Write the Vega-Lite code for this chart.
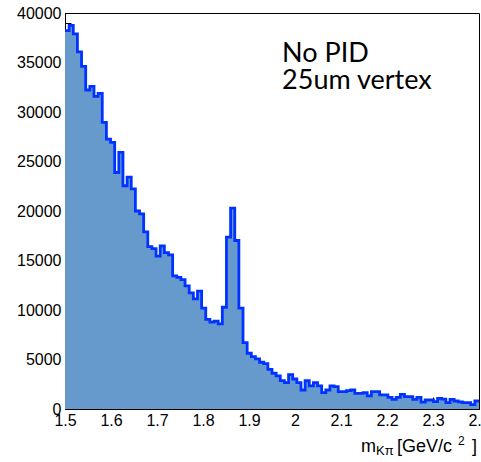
{
  "$schema": "https://vega.github.io/schema/vega-lite/v6.json",
  "width": 414,
  "height": 396,
  "autosize": {"type": "none"},
  "padding": {"left": 65, "top": 13, "right": 2, "bottom": 53},
  "background": "white",
  "config": {
    "view": {"stroke": "black", "strokeWidth": 1},
    "axis": {"domain": false, "grid": false, "tickColor": "black", "tickWidth": 1, "labelColor": "black", "labelFont": "Liberation Sans", "labelFontSize": 16, "titleFont": "Liberation Sans", "zindex": 1}
  },
  "datasets": {
    "hist": [
      {"lo": 1.500, "hi": 1.509, "n": 38220},
      {"lo": 1.509, "hi": 1.518, "n": 38760},
      {"lo": 1.518, "hi": 1.527, "n": 37900},
      {"lo": 1.527, "hi": 1.536, "n": 36070},
      {"lo": 1.536, "hi": 1.545, "n": 34610},
      {"lo": 1.545, "hi": 1.554, "n": 32220},
      {"lo": 1.554, "hi": 1.563, "n": 32590},
      {"lo": 1.563, "hi": 1.572, "n": 31580},
      {"lo": 1.572, "hi": 1.581, "n": 31880},
      {"lo": 1.581, "hi": 1.590, "n": 28950},
      {"lo": 1.590, "hi": 1.599, "n": 27270},
      {"lo": 1.599, "hi": 1.608, "n": 26930},
      {"lo": 1.608, "hi": 1.617, "n": 23890},
      {"lo": 1.617, "hi": 1.626, "n": 25920},
      {"lo": 1.626, "hi": 1.635, "n": 22550},
      {"lo": 1.635, "hi": 1.644, "n": 23430},
      {"lo": 1.644, "hi": 1.653, "n": 22240},
      {"lo": 1.653, "hi": 1.662, "n": 20000},
      {"lo": 1.662, "hi": 1.671, "n": 19700},
      {"lo": 1.671, "hi": 1.680, "n": 17900},
      {"lo": 1.680, "hi": 1.689, "n": 16410},
      {"lo": 1.689, "hi": 1.698, "n": 16200},
      {"lo": 1.698, "hi": 1.707, "n": 15450},
      {"lo": 1.707, "hi": 1.716, "n": 16480},
      {"lo": 1.716, "hi": 1.725, "n": 15800},
      {"lo": 1.725, "hi": 1.734, "n": 15570},
      {"lo": 1.734, "hi": 1.743, "n": 13450},
      {"lo": 1.743, "hi": 1.752, "n": 13300},
      {"lo": 1.752, "hi": 1.761, "n": 13060},
      {"lo": 1.761, "hi": 1.770, "n": 12440},
      {"lo": 1.770, "hi": 1.779, "n": 11730},
      {"lo": 1.779, "hi": 1.788, "n": 11120},
      {"lo": 1.788, "hi": 1.797, "n": 11900},
      {"lo": 1.797, "hi": 1.806, "n": 10180},
      {"lo": 1.806, "hi": 1.815, "n": 9050},
      {"lo": 1.815, "hi": 1.824, "n": 8770},
      {"lo": 1.824, "hi": 1.833, "n": 8870},
      {"lo": 1.833, "hi": 1.842, "n": 8590},
      {"lo": 1.842, "hi": 1.851, "n": 10280},
      {"lo": 1.851, "hi": 1.860, "n": 17360},
      {"lo": 1.860, "hi": 1.869, "n": 20290},
      {"lo": 1.869, "hi": 1.878, "n": 17020},
      {"lo": 1.878, "hi": 1.887, "n": 10180},
      {"lo": 1.887, "hi": 1.896, "n": 6700},
      {"lo": 1.896, "hi": 1.905, "n": 5630},
      {"lo": 1.905, "hi": 1.914, "n": 5290},
      {"lo": 1.914, "hi": 1.923, "n": 5060},
      {"lo": 1.923, "hi": 1.932, "n": 4720},
      {"lo": 1.932, "hi": 1.941, "n": 4580},
      {"lo": 1.941, "hi": 1.950, "n": 4010},
      {"lo": 1.950, "hi": 1.959, "n": 3610},
      {"lo": 1.959, "hi": 1.968, "n": 3340},
      {"lo": 1.968, "hi": 1.977, "n": 2870},
      {"lo": 1.977, "hi": 1.986, "n": 2660},
      {"lo": 1.986, "hi": 1.995, "n": 3470},
      {"lo": 1.995, "hi": 2.004, "n": 3030},
      {"lo": 2.004, "hi": 2.013, "n": 2660},
      {"lo": 2.013, "hi": 2.022, "n": 1920},
      {"lo": 2.022, "hi": 2.031, "n": 2870},
      {"lo": 2.031, "hi": 2.040, "n": 2330},
      {"lo": 2.040, "hi": 2.049, "n": 2660},
      {"lo": 2.049, "hi": 2.058, "n": 2330},
      {"lo": 2.058, "hi": 2.067, "n": 1650},
      {"lo": 2.067, "hi": 2.076, "n": 1920},
      {"lo": 2.076, "hi": 2.085, "n": 2330},
      {"lo": 2.085, "hi": 2.094, "n": 2260},
      {"lo": 2.094, "hi": 2.103, "n": 1750},
      {"lo": 2.103, "hi": 2.112, "n": 1750},
      {"lo": 2.112, "hi": 2.121, "n": 1850},
      {"lo": 2.121, "hi": 2.130, "n": 1920},
      {"lo": 2.130, "hi": 2.139, "n": 1580},
      {"lo": 2.139, "hi": 2.148, "n": 1580},
      {"lo": 2.148, "hi": 2.157, "n": 1650},
      {"lo": 2.157, "hi": 2.166, "n": 1320},
      {"lo": 2.166, "hi": 2.175, "n": 1750},
      {"lo": 2.175, "hi": 2.184, "n": 1750},
      {"lo": 2.184, "hi": 2.193, "n": 1420},
      {"lo": 2.193, "hi": 2.202, "n": 1420},
      {"lo": 2.202, "hi": 2.211, "n": 1180},
      {"lo": 2.211, "hi": 2.220, "n": 980},
      {"lo": 2.220, "hi": 2.229, "n": 1180},
      {"lo": 2.229, "hi": 2.238, "n": 1480},
      {"lo": 2.238, "hi": 2.247, "n": 1250},
      {"lo": 2.247, "hi": 2.256, "n": 1250},
      {"lo": 2.256, "hi": 2.265, "n": 980},
      {"lo": 2.265, "hi": 2.274, "n": 1180},
      {"lo": 2.274, "hi": 2.283, "n": 700},
      {"lo": 2.283, "hi": 2.292, "n": 910},
      {"lo": 2.292, "hi": 2.301, "n": 910},
      {"lo": 2.301, "hi": 2.310, "n": 740},
      {"lo": 2.310, "hi": 2.319, "n": 1080},
      {"lo": 2.319, "hi": 2.328, "n": 1000},
      {"lo": 2.328, "hi": 2.337, "n": 650},
      {"lo": 2.337, "hi": 2.346, "n": 980},
      {"lo": 2.346, "hi": 2.355, "n": 810},
      {"lo": 2.355, "hi": 2.364, "n": 710},
      {"lo": 2.364, "hi": 2.373, "n": 640},
      {"lo": 2.373, "hi": 2.382, "n": 640},
      {"lo": 2.382, "hi": 2.391, "n": 450},
      {"lo": 2.391, "hi": 2.400, "n": 810}
    ],
    "note": [{"label": "No PID\n25um vertex"}],
    "xt1": [{"label": "m"}],
    "xt2": [{"label": "Kπ"}],
    "xt3": [{"label": "[GeV/c"}],
    "xt4": [{"label": "2"}],
    "xt5": [{"label": "]"}]
  },
  "layer": [
    {
      "data": {"name": "hist"},
      "transform": [{"fold": ["lo", "hi"], "as": ["edge", "xv"]}],
      "mark": {"type": "area", "color": "#6699cc", "opacity": 1},
      "encoding": {
        "x": {"field": "xv", "type": "quantitative", "scale": {"domain": [1.5, 2.4], "nice": false, "zero": false},
              "axis": {"orient": "bottom", "title": null, "values": [1.5, 1.6, 1.7, 1.8, 1.9, 2.0, 2.1, 2.2, 2.3, 2.4], "format": ".2~f", "tickSize": -12, "labelPadding": 15, "labelFlush": false}},
        "y": {"field": "n", "type": "quantitative", "stack": null, "scale": {"domain": [0, 40000], "nice": false},
              "axis": {"orient": "left", "title": null, "values": [0, 5000, 10000, 15000, 20000, 25000, 30000, 35000, 40000], "format": "d", "tickSize": -12, "labelPadding": 16, "labelFlush": false}}
      }
    },
    {
      "data": {"name": "hist"},
      "transform": [{"fold": ["lo", "hi"], "as": ["edge", "xv"]}],
      "mark": {"type": "line", "color": "#0033ff", "strokeWidth": 2.8, "strokeJoin": "miter"},
      "encoding": {
        "x": {"field": "xv", "type": "quantitative", "scale": {"domain": [1.5, 2.4], "nice": false, "zero": false},
              "axis": {"orient": "bottom", "title": null, "labels": false, "tickCount": 45, "tickSize": -6}},
        "y": {"field": "n", "type": "quantitative", "scale": {"domain": [0, 40000], "nice": false},
              "axis": {"orient": "left", "title": null, "labels": false, "tickCount": 40, "tickSize": -6}},
        "order": [{"field": "xv", "type": "quantitative"}, {"field": "edge", "type": "nominal"}]
      }
    },
    {
      "data": {"name": "note"},
      "mark": {"type": "text", "align": "left", "baseline": "alphabetic", "font": "Lato", "fontSize": 27, "lineBreak": "\n", "lineHeight": 27, "color": "black"},
      "encoding": {
        "x": {"datum": 1.972, "type": "quantitative", "scale": {"domain": [1.5, 2.4], "nice": false, "zero": false}, "axis": null},
        "y": {"datum": 35100, "type": "quantitative", "scale": {"domain": [0, 40000], "nice": false}, "axis": null},
        "text": {"field": "label"}
      }
    },
    {
      "data": {"name": "xt1"},
      "mark": {"type": "text", "align": "left", "baseline": "alphabetic", "font": "Liberation Sans", "fontSize": 18, "color": "black"},
      "encoding": {
        "x": {"datum": 2.1435, "type": "quantitative", "scale": {"domain": [1.5, 2.4], "nice": false, "zero": false}, "axis": null},
        "y": {"datum": -4300, "type": "quantitative", "scale": {"domain": [0, 40000], "nice": false}, "axis": null},
        "text": {"field": "label"}
      }
    },
    {
      "data": {"name": "xt2"},
      "mark": {"type": "text", "align": "left", "baseline": "alphabetic", "font": "Liberation Sans", "fontSize": 13, "color": "black"},
      "encoding": {
        "x": {"datum": 2.176, "type": "quantitative", "scale": {"domain": [1.5, 2.4], "nice": false, "zero": false}, "axis": null},
        "y": {"datum": -4600, "type": "quantitative", "scale": {"domain": [0, 40000], "nice": false}, "axis": null},
        "text": {"field": "label"}
      }
    },
    {
      "data": {"name": "xt3"},
      "mark": {"type": "text", "align": "left", "baseline": "alphabetic", "font": "Liberation Sans", "fontSize": 18, "color": "black"},
      "encoding": {
        "x": {"datum": 2.2217, "type": "quantitative", "scale": {"domain": [1.5, 2.4], "nice": false, "zero": false}, "axis": null},
        "y": {"datum": -4300, "type": "quantitative", "scale": {"domain": [0, 40000], "nice": false}, "axis": null},
        "text": {"field": "label"}
      }
    },
    {
      "data": {"name": "xt4"},
      "mark": {"type": "text", "align": "left", "baseline": "alphabetic", "font": "Liberation Sans", "fontSize": 12, "color": "black"},
      "encoding": {
        "x": {"datum": 2.3543, "type": "quantitative", "scale": {"domain": [1.5, 2.4], "nice": false, "zero": false}, "axis": null},
        "y": {"datum": -3600, "type": "quantitative", "scale": {"domain": [0, 40000], "nice": false}, "axis": null},
        "text": {"field": "label"}
      }
    },
    {
      "data": {"name": "xt5"},
      "mark": {"type": "text", "align": "left", "baseline": "alphabetic", "font": "Liberation Sans", "fontSize": 18, "color": "black"},
      "encoding": {
        "x": {"datum": 2.3848, "type": "quantitative", "scale": {"domain": [1.5, 2.4], "nice": false, "zero": false}, "axis": null},
        "y": {"datum": -4300, "type": "quantitative", "scale": {"domain": [0, 40000], "nice": false}, "axis": null},
        "text": {"field": "label"}
      }
    }
  ],
  "resolve": {"axis": {"x": "independent", "y": "independent"}}
}
